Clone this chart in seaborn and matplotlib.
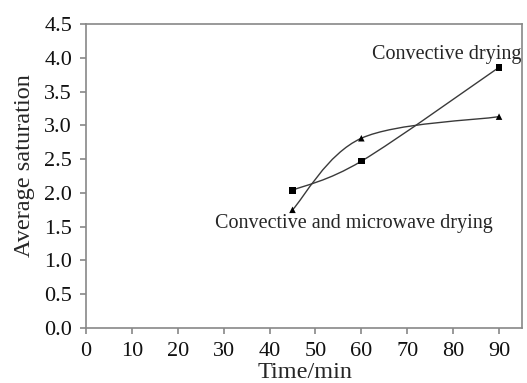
import numpy as np
import pandas as pd
import seaborn as sns
import matplotlib.pyplot as plt
from matplotlib.path import Path
from matplotlib.patches import PathPatch

# Data
time_min = [45, 60, 90]
convective = [2.04, 2.47, 3.86]
convective_microwave = [1.75, 2.81, 3.13]

x_ticks = [0, 10, 20, 30, 40, 50, 60, 70, 80, 90]
y_ticks = [0.0, 0.5, 1.0, 1.5, 2.0, 2.5, 3.0, 3.5, 4.0, 4.5]

df = pd.DataFrame({
    'Time': time_min * 2,
    'Saturation': convective + convective_microwave,
    'Method': ['Convective drying'] * 3 + ['Convective and microwave drying'] * 3,
})

sns.set_style('ticks')
plt.rcParams['font.family'] = ['Liberation Serif', 'DejaVu Serif']

fig = plt.figure(figsize=(5.27, 3.83), dpi=100)
ax = fig.add_axes([0.163, 0.1436, 0.8275, 0.7934])

line_col = '#3a3a3a'


def smooth_path(ax, xs, ys):
    # Excel-like smoothed line: cubic Bezier segments (Catmull-Rom style),
    # control points computed in display space
    pts = ax.transData.transform(np.column_stack([xs, ys]))
    n = len(pts)
    verts = [pts[0]]
    codes = [Path.MOVETO]
    for i in range(n - 1):
        p0 = pts[i - 1] if i > 0 else pts[i]
        p1 = pts[i]
        p2 = pts[i + 1]
        p3 = pts[i + 2] if i + 2 < n else pts[i + 1]
        c1 = p1 + (p2 - p0) / 6.0
        c2 = p2 - (p3 - p1) / 6.0
        verts += [c1, c2, p2]
        codes += [Path.CURVE4] * 3
    verts = ax.transData.inverted().transform(np.array(verts))
    return Path(verts, codes)


ax.set_xlim(0, 95)
ax.set_ylim(0, 4.5)

for method, marker in [('Convective drying', 's'),
                       ('Convective and microwave drying', '^')]:
    sub = df[df['Method'] == method]
    path = smooth_path(ax, sub['Time'].values, sub['Saturation'].values)
    ax.add_patch(PathPatch(path, facecolor='none', edgecolor=line_col, lw=1.0))
    sns.scatterplot(data=sub, x='Time', y='Saturation', marker=marker,
                    color='black', s=22, edgecolor='none', ax=ax, zorder=3)

ax.set_xticks(x_ticks)
ax.set_yticks(y_ticks)
ax.set_yticklabels([f'{v:.1f}' for v in y_ticks])
ax.tick_params(axis='both', labelsize=16, colors='#888888', labelcolor='#111111',
               direction='out', length=4, width=1.2)
ax.tick_params(axis='x', pad=6)
ax.tick_params(axis='y', pad=6)
for s in ax.spines.values():
    s.set_color('#888888')
    s.set_linewidth(1.2)

ax.set_xlabel('Time/min', fontsize=17.5, va='center')
ax.xaxis.set_label_coords(0.502, -0.145)
ax.set_ylabel('Average saturation', fontsize=17.5, va='center')
ax.yaxis.set_label_coords(-0.14, 0.535)

ax.text(94.8, 4.05, 'Convective drying', fontsize=14.5, ha='right', va='center')
ax.text(28.1, 1.55, 'Convective and microwave drying', fontsize=14.5,
        ha='left', va='center')

fig.savefig('out.png', dpi=100)
